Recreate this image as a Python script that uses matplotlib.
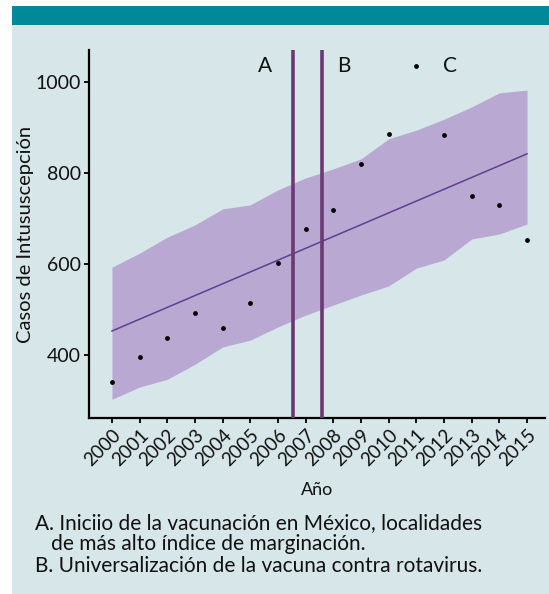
import matplotlib
matplotlib.use("Agg")
import matplotlib.pyplot as plt
from matplotlib.patches import Rectangle

plt.rcParams['font.family'] = ['Lato', 'DejaVu Sans']

# ---- data ----
years = list(range(2000, 2016))
casos = [342, 396, 438, 492, 459, 514, 602, 677, 719, 820, 886, 1035, 884, 749, 729, 652]
band_upper = [593, 624, 659, 686, 721, 730, 763, 789, 809, 831, 875, 894, 918, 945, 976, 982]
band_lower = [303, 330, 347, 380, 418, 433, 462, 488, 510, 532, 552, 591, 609, 655, 666, 688]
trend_years = [2000, 2015]
trend_values = [453, 842]
event_years = [2006.55, 2007.6]
event_labels = ["A", "B"]
label_pos = [2005.53, 2008.38]
c_label_year = 2012.2
tick_labels = [str(y) for y in years]
caption = ["A. Iniciio de la vacunación en México, localidades",
           "   de más alto índice de marginación.",
           "B. Universalización de la vacuna contra rotavirus."]

BG = "#D7E6E9"
TEAL = "#008A99"
BAND = "#B8A8D2"
LINE = "#5E3F94"
VLINE = "#6B3A73"

fig = plt.figure(figsize=(5.49, 5.94), dpi=100)
fig.patch.set_facecolor("white")
fig.patches.append(Rectangle((12/549, 0), 1, 1 - 25/594, transform=fig.transFigure,
                             facecolor=BG, edgecolor="none", zorder=-10))
fig.patches.append(Rectangle((12/549, 1 - 25/594), 1, 19/594, transform=fig.transFigure,
                             facecolor=TEAL, edgecolor="none", zorder=-10))

ax = fig.add_axes([89/549, 1 - 418/594, (545 - 89)/549, (418 - 50)/594])
ax.set_facecolor("none")
ax.set_zorder(5)

ax.fill_between(years, band_lower, band_upper, color=BAND, linewidth=0, zorder=1)
ax.plot(trend_years, trend_values, color=LINE, linewidth=1.1, zorder=2)
for x in event_years:
    ax.axvline(x, color=VLINE, linewidth=2.6, zorder=3)
ax.scatter(years, casos, s=12, color="black", zorder=4, linewidths=0)

for lab, x in zip(event_labels, label_pos):
    ax.text(x, 1035, lab, fontsize=15, ha="center", va="center", color="#111111")
ax.text(c_label_year, 1035, "C", fontsize=15, ha="center", va="center", color="#111111")

ax.set_xlim(1999.17, 2015.65)
ax.set_ylim(262, 1070)
ax.set_yticks([400, 600, 800, 1000])
ax.set_yticklabels(["400", "600", "800", "1000"], fontsize=14, color="#111111")
ax.set_xticks(years)
ax.set_xticklabels(tick_labels, rotation=45, ha="right", rotation_mode="anchor",
                   fontsize=13.5, color="#111111")
ax.tick_params(axis="both", direction="out", length=3.8, width=1.3, color="black", pad=2)
for s in ["top", "right"]:
    ax.spines[s].set_visible(False)
for s in ["left", "bottom"]:
    ax.spines[s].set_linewidth(1.6)
    ax.spines[s].set_color("black")

ax.set_ylabel("Casos de Intususcepción", fontsize=14.5, color="#111111", labelpad=1)
fig.text(317/549, 1 - 490/594, "Año", fontsize=13, ha="center", va="center", color="#111111")

for i, line in enumerate(caption):
    fig.text(35/549, 1 - (523 + 21.5*i)/594, line, fontsize=15, ha="left", va="center",
             color="#111111")

fig.savefig("out.png", dpi=100)
